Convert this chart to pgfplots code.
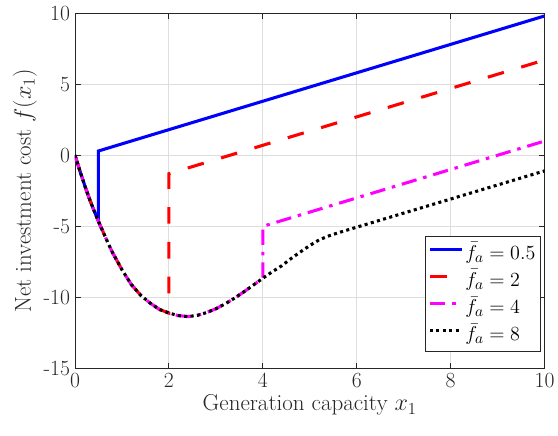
\documentclass[border=0pt]{standalone}
\usepackage{pgfplots}
\pgfplotsset{compat=1.18}
\definecolor{axgray}{rgb}{0.15,0.15,0.15}
\definecolor{gridgray}{rgb}{0.87,0.87,0.87}
\definecolor{mag}{rgb}{1,0,1}
\begin{document}
\begin{tikzpicture}
\useasboundingbox (-53.8pt,-48pt) rectangle (346.6pt,264.4pt);
\begin{axis}[
  at={(0pt,0pt)}, anchor=south west,
  scale only axis, width=337pt, height=255pt,
  xmin=0, xmax=10, ymin=-15, ymax=10,
  xtick={0,2,4,6,8,10}, xticklabels={0,2,4,6,8,10},
  ytick={-15,-10,-5,0,5,10}, yticklabels={-15,-10,-5,0,5,10},
  tick align=inside, tick pos=both,
  major tick length=4pt,
  grid=major,
  major grid style={gridgray, line width=0.6pt},
  axis line style={axgray, line width=0.6pt},
  every tick/.style={axgray, line width=0.6pt},
  tick label style={font=\fontsize{15.5}{17}\selectfont, text=axgray},
  label style={font=\fontsize{16.5}{18}\selectfont, text=axgray},
  xlabel={Generation capacity $x_1$},
  ylabel={Net investment cost $f(x_1)$},
  xlabel style={yshift=2pt},
  ylabel style={yshift=-2pt},
  legend style={at={(rel axis cs:0.9915,0.048)}, anchor=south east,
    font=\fontsize{15}{17}\selectfont, draw=axgray, line width=0.6pt,
    fill=white, row sep=0pt, inner sep=2pt,
    nodes={text height=12.5pt, text depth=4pt, inner sep=1.5pt}},
  legend cell align=left,
  legend image post style={line width=2.2pt},
  legend image code/.code={\draw[#1] (0cm,0.1cm) -- (0.8cm,0.1cm);},
]
\addplot[blue, line width=2.2pt] coordinates {
(0,0) (0.1,-1.05) (0.2,-2.05) (0.3,-3.0) (0.4,-3.85) (0.5,-4.65)
(0.5,0.3) (10,9.8)};
\addlegendentry{$\bar{f}_a = 0.5$}
\addplot[red, line width=2.2pt, dash pattern=on 12pt off 13pt] coordinates {
(0,0) (0.1,-1.05) (0.2,-2.05) (0.3,-3.0) (0.4,-3.85) (0.5,-4.65)
(0.6,-5.4) (0.7,-6.15) (0.8,-6.85) (0.9,-7.45) (1.0,-8.05) (1.2,-9.1)
(1.4,-9.85) (1.6,-10.4) (1.8,-10.85) (2.0,-11.1)
(2.0,-1.3) (10,6.7)};
\addlegendentry{$\bar{f}_a = 2$}
\addplot[mag, line width=2.2pt, dash pattern=on 11pt off 5pt on 2.5pt off 5pt] coordinates {
(0,0) (0.1,-1.05) (0.2,-2.05) (0.3,-3.0) (0.4,-3.85) (0.5,-4.65)
(0.6,-5.4) (0.7,-6.15) (0.8,-6.85) (0.9,-7.45) (1.0,-8.05) (1.2,-9.1)
(1.4,-9.85) (1.6,-10.4) (1.8,-10.85) (2.0,-11.1) (2.2,-11.28) (2.4,-11.35)
(2.6,-11.27) (2.8,-11.07) (3.0,-10.8) (3.2,-10.45) (3.4,-10.05) (3.6,-9.6)
(3.8,-9.13) (4.0,-8.65)
(4.0,-5.0) (10,1.0)};
\addlegendentry{$\bar{f}_a = 4$}
\addplot[black, line width=2.2pt, dash pattern=on 2.2pt off 2.4pt] coordinates {
(0,0) (0.1,-1.05) (0.2,-2.05) (0.3,-3.0) (0.4,-3.85) (0.5,-4.65)
(0.6,-5.4) (0.7,-6.15) (0.8,-6.85) (0.9,-7.45) (1.0,-8.05) (1.2,-9.1)
(1.4,-9.85) (1.6,-10.4) (1.8,-10.85) (2.0,-11.1) (2.2,-11.28) (2.4,-11.35)
(2.6,-11.27) (2.8,-11.07) (3.0,-10.8) (3.2,-10.45) (3.4,-10.05) (3.6,-9.6)
(3.8,-9.13) (4.0,-8.65) (4.2,-8.2) (4.4,-7.78) (4.6,-7.27) (4.8,-6.8)
(5.0,-6.35) (5.2,-5.95) (5.4,-5.68) (5.6,-5.46) (6.0,-5.06) (10,-1.1)};
\addlegendentry{$\bar{f}_a = 8$}
\end{axis}
\end{tikzpicture}
\end{document}
